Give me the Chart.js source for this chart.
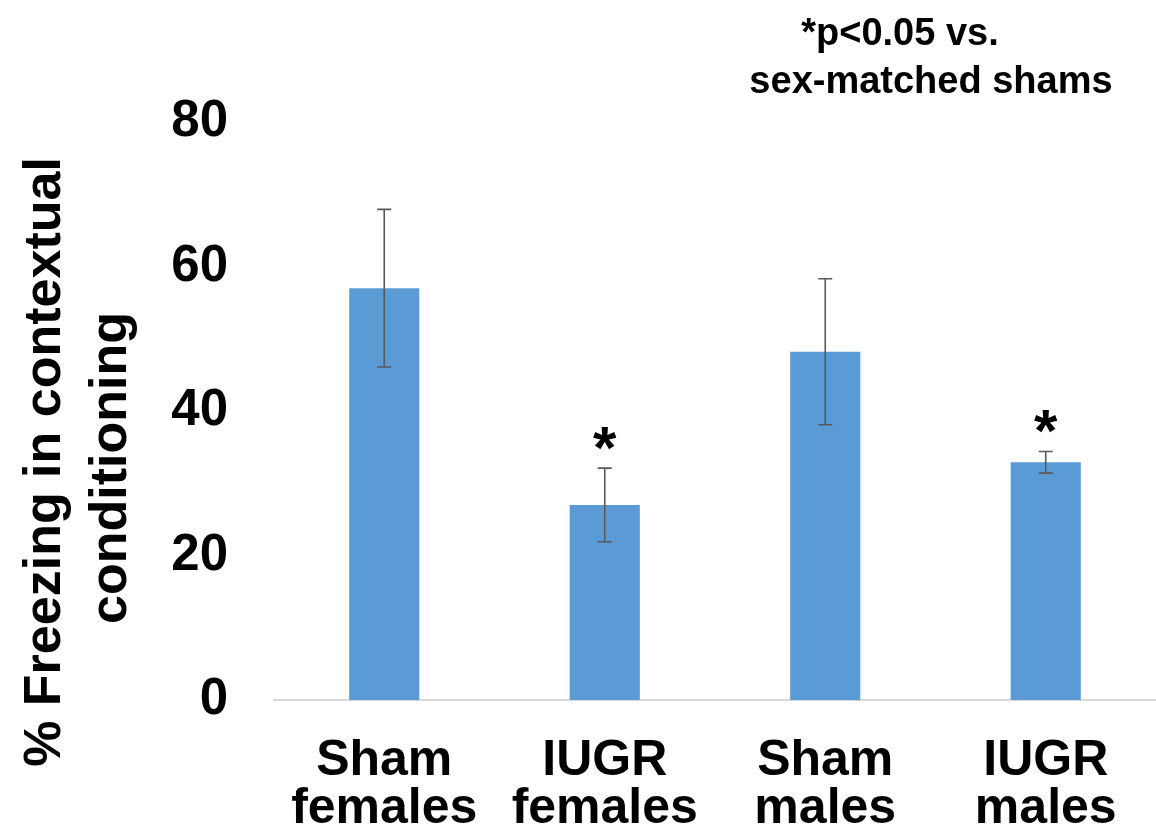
<!DOCTYPE html>
<html>
<head>
<meta charset="utf-8">
<script src="https://cdn.jsdelivr.net/npm/chart.js@4.4.1/dist/chart.umd.min.js"></script>
<style>
  html, body { margin: 0; padding: 0; background: #fff; }
  #wrap { width: 1156px; height: 835px; }
</style>
</head>
<body>
<div id="wrap"><canvas id="freezing-chart" width="1156" height="835"></canvas></div>
<script>
// data
const groups = [['Sham', 'females'], ['IUGR', 'females'], ['Sham', 'males'], ['IUGR', 'males']];
const freezing = [57.0, 27.0, 48.2, 32.9];
const sem = [10.9, 5.1, 10.1, 1.5];
const significant = [false, true, false, true];
const yTicks = [0, 20, 40, 60, 80];
const yTitle = ['% Freezing in contextual', 'conditioning'];
const note = ['*p<0.05 vs.', 'sex-matched shams'];

const FONT = '"Liberation Sans", Arial, sans-serif';

// error bars + significance stars
const errorBars = {
  id: 'errorBars',
  afterDatasetsDraw(chart) {
    const ctx = chart.ctx;
    const y = chart.scales.y;
    const meta = chart.getDatasetMeta(0);
    ctx.save();
    meta.data.forEach((bar, i) => {
      const top = y.getPixelForValue(freezing[i] + sem[i]);
      const bottom = y.getPixelForValue(freezing[i] - sem[i]);
      ctx.strokeStyle = '#595959';
      ctx.lineWidth = 1.6;
      ctx.beginPath();
      ctx.moveTo(bar.x, top);
      ctx.lineTo(bar.x, bottom);
      ctx.moveTo(bar.x - 7, top);
      ctx.lineTo(bar.x + 7, top);
      ctx.moveTo(bar.x - 7, bottom);
      ctx.lineTo(bar.x + 7, bottom);
      ctx.stroke();

      if (significant[i]) {
        ctx.font = 'bold 60px ' + FONT;
        ctx.fillStyle = '#000';
        ctx.textAlign = 'center';
        ctx.textBaseline = 'alphabetic';
        const m = ctx.measureText('*');
        const mid = (m.actualBoundingBoxAscent - m.actualBoundingBoxDescent) / 2;
        ctx.fillText('*', bar.x, top - 30 + mid);
      }
    });
    ctx.restore();
  }
};

// axis title and the p-value note
const extraText = {
  id: 'extraText',
  afterDraw(chart) {
    const ctx = chart.ctx;
    ctx.save();
    ctx.fillStyle = '#000';
    ctx.textAlign = 'center';
    ctx.textBaseline = 'alphabetic';
    ctx.font = 'bold 52px ' + FONT;

    ctx.save();
    ctx.translate(60, 462);
    ctx.rotate(-Math.PI / 2);
    ctx.fillText(yTitle[0], 0, 0);
    ctx.restore();

    ctx.save();
    ctx.translate(126, 468);
    ctx.rotate(-Math.PI / 2);
    ctx.fillText(yTitle[1], 0, 0);
    ctx.restore();

    ctx.font = 'bold 38px ' + FONT;
    ctx.fillText(note[0], 900, 45);
    ctx.fillText(note[1], 931, 93);
    ctx.restore();
  }
};

const ctx = document.getElementById('freezing-chart').getContext('2d');
const freezingChart = new Chart(ctx, {
  type: 'bar',
  data: {
    labels: groups,
    datasets: [{
      data: freezing,
      backgroundColor: '#5B9BD5',
      borderWidth: 0,
      categoryPercentage: 1,
      barPercentage: 0.318
    }]
  },
  options: {
    responsive: false,
    animation: false,
    layout: { padding: { top: 122, left: 0, right: 0, bottom: 0 } },
    plugins: {
      legend: { display: false },
      tooltip: { enabled: false }
    },
    scales: {
      x: {
        grid: { display: false, drawTicks: false },
        border: { display: true, color: '#d9d9d9', width: 2 },
        ticks: {
          color: '#000',
          padding: 37,
          maxRotation: 0,
          autoSkip: false,
          font: { family: FONT, size: 50, weight: 'bold', lineHeight: 0.96 }
        },
        afterFit: (scale) => { scale.height = 135; }
      },
      y: {
        min: 0,
        max: 80,
        grid: { display: false, drawTicks: false },
        border: { display: false },
        ticks: {
          color: '#000',
          padding: 46,
          font: { family: FONT, size: 51, weight: 'bold' }
        },
        afterBuildTicks: (scale) => { scale.ticks = yTicks.map(v => ({ value: v })); },
        afterFit: (scale) => { scale.width = 274; }
      }
    }
  },
  plugins: [errorBars, extraText]
});
</script>
</body>
</html>
